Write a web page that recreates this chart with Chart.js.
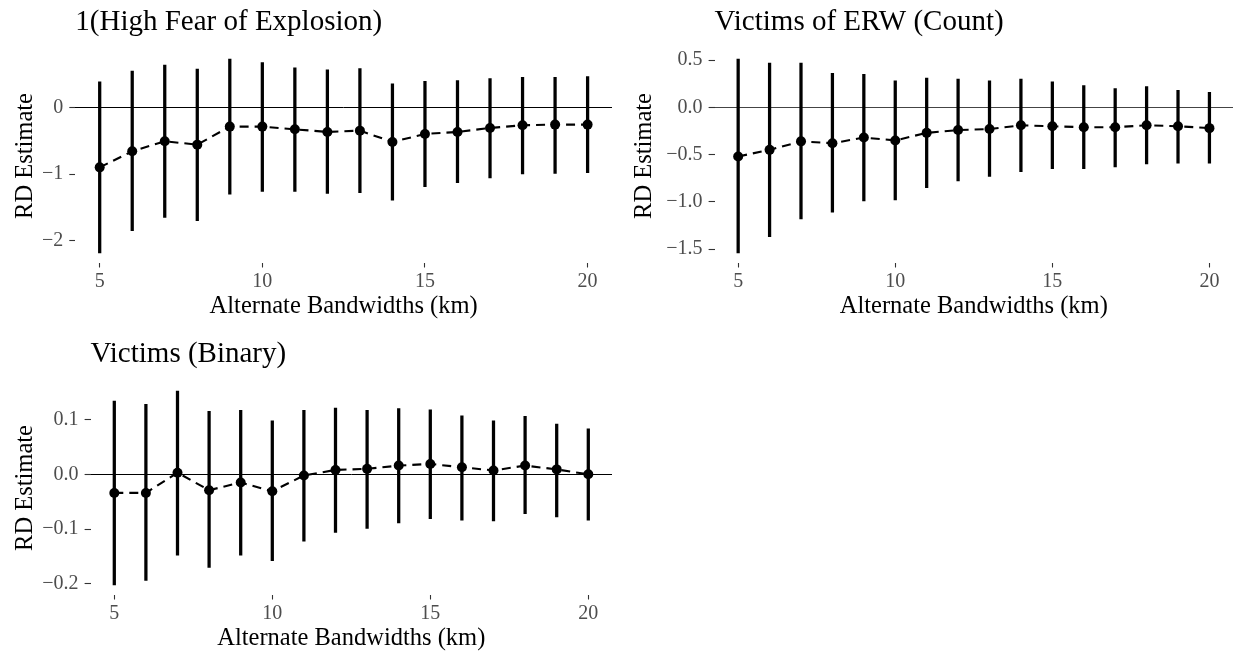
<!DOCTYPE html>
<html><head><meta charset="utf-8">
<script src="https://cdn.jsdelivr.net/npm/chart.js@4.4.1/dist/chart.umd.min.js"></script>
<style>
html,body{margin:0;padding:0;background:#fff;width:1238px;height:654px;overflow:hidden;position:relative;}
canvas{position:absolute;}
</style></head><body>
<canvas id="c1" width="619" height="322" style="left:0;top:0"></canvas>
<canvas id="c2" width="619" height="322" style="left:619px;top:0"></canvas>
<canvas id="c3" width="619" height="322" style="left:0;top:332px"></canvas>
<script>
// ---- data ----
const bandwidths = [5,6,7,8,9,10,11,12,13,14,15,16,17,18,19,20];
const xTicks = [5,10,15,20];

const fearTitle = "1(High Fear of Explosion)";
const fearEst = [-0.90,-0.66,-0.51,-0.56,-0.29,-0.29,-0.33,-0.37,-0.35,-0.52,-0.40,-0.37,-0.31,-0.27,-0.26,-0.26];
const fearLo  = [-2.18,-1.85,-1.65,-1.70,-1.30,-1.26,-1.26,-1.29,-1.28,-1.39,-1.19,-1.13,-1.06,-1.00,-0.99,-0.98];
const fearHi  = [0.38,0.54,0.63,0.57,0.72,0.67,0.59,0.56,0.58,0.35,0.39,0.40,0.43,0.45,0.45,0.46];
const fearYTicks = [-2,-1,0];

const countTitle = "Victims of ERW (Count)";
const countEst = [-0.52,-0.45,-0.36,-0.38,-0.32,-0.35,-0.27,-0.24,-0.23,-0.19,-0.20,-0.21,-0.21,-0.19,-0.20,-0.22];
const countLo  = [-1.54,-1.37,-1.18,-1.11,-0.99,-0.98,-0.85,-0.78,-0.73,-0.68,-0.65,-0.65,-0.63,-0.60,-0.59,-0.59];
const countHi  = [0.51,0.47,0.47,0.36,0.35,0.28,0.31,0.30,0.28,0.30,0.27,0.23,0.20,0.22,0.18,0.16];
const countYTicks = [-1.5,-1.0,-0.5,0.0,0.5];

const binaryTitle = "Victims (Binary)";
const binaryEst = [-0.034,-0.034,0.003,-0.029,-0.015,-0.031,-0.002,0.008,0.010,0.016,0.019,0.013,0.007,0.016,0.009,0.000];
const binaryLo  = [-0.202,-0.194,-0.148,-0.170,-0.148,-0.158,-0.122,-0.106,-0.099,-0.089,-0.081,-0.084,-0.085,-0.072,-0.078,-0.084];
const binaryHi  = [0.134,0.128,0.152,0.115,0.117,0.098,0.117,0.121,0.117,0.120,0.118,0.107,0.098,0.106,0.092,0.083];
const binaryYTicks = [-0.2,-0.1,0.0,0.1];

const xTitle = "Alternate Bandwidths (km)";
const yTitle = "RD Estimate";

// ---- drawing ----
const FONT = "'Liberation Serif', 'Times New Roman', serif";

function fmt(v, dec){
  const s = Math.abs(v).toFixed(dec);
  return (v < -1e-9 ? "\u2212" : "") + s;
}

function makePanel(id, title, est, lo, hi, yTicks, dec, yAxisW, padRight, zeroColor){
  const ymin = Math.min(...lo), ymax = Math.max(...hi);
  const ex = 0.05*(ymax-ymin);
  const xex = 0.05*(bandwidths[bandwidths.length-1]-bandwidths[0]);
  new Chart(document.getElementById(id), {
    type: 'line',
    data: {
      datasets: [
        {
          type: 'line',
          order: 1,
          data: bandwidths.map((b,i)=>({x:b, y:est[i]})),
          borderColor: '#000',
          borderWidth: 2.1,
          borderDash: [9,6],
          pointRadius: 5,
          pointBackgroundColor: '#000',
          pointBorderWidth: 0,
          tension: 0,
          fill: false
        },
        {
          type: 'bar',
          order: 2,
          data: bandwidths.map((b,i)=>({x:b, y:[lo[i], hi[i]]})),
          backgroundColor: '#000',
          borderWidth: 0,
          barThickness: 2.6
        }
      ]
    },
    options: {
      responsive: false,
      animation: false,
      devicePixelRatio: 1,
      events: [],
      layout: { padding: {left:0, right:padRight, top:0, bottom:0} },
      plugins: {
        legend: {display:false},
        tooltip: {enabled:false},
        title: {
          display: true, text: title, align: 'start', fullSize: false,
          color: '#000',
          font: {family: FONT, size: 29, weight: 'normal', lineHeight: 1.2},
          padding: {top: 4.8, bottom: 9.9}
        }
      },
      scales: {
        x: {
          type: 'linear',
          min: bandwidths[0]-xex, max: bandwidths[bandwidths.length-1]+xex,
          offset: false,
          afterBuildTicks: (ax)=>{ ax.ticks = xTicks.map(v=>({value:v})); },
          afterFit: (ax)=>{ ax.height = 59.5; },
          border: {display:false},
          grid: {drawOnChartArea:false, drawTicks:true, tickLength:5, tickColor:'#333', tickWidth:1.1, offset:false},
          ticks: {color:'#4d4d4d', padding:2.0, maxRotation:0, autoSkip:false,
                  font:{family:FONT, size:20, lineHeight:1.2},
                  callback:(v)=>String(v)},
          title: {display:true, text:xTitle, color:'#000',
                  font:{family:FONT, size:24.5, lineHeight:1.2},
                  padding:{top:0, bottom:0.8}}
        },
        y: {
          type: 'linear',
          min: ymin-ex, max: ymax+ex,
          afterBuildTicks: (ax)=>{ ax.ticks = yTicks.map(v=>({value:v})); },
          afterFit: (ax)=>{ ax.width = yAxisW; },
          border: {display:false},
          grid: {
            drawOnChartArea:true, drawTicks:true, tickLength:6, tickColor:'#333', tickWidth:1.1,
            color: (c)=> (c.tick && Math.abs(c.tick.value) < 1e-9) ? zeroColor : 'rgba(0,0,0,0)',
            lineWidth: 1
          },
          ticks: {color:'#4d4d4d', padding:6, autoSkip:false,
                  font:{family:FONT, size:20, lineHeight:1.2},
                  callback:(v)=>fmt(v, dec)},
          title: {display:true, text:yTitle, color:'#000',
                  font:{family:FONT, size:24.5, lineHeight:1.2},
                  padding:{top:10.8, bottom:0}}
        }
      }
    }
  });
}

makePanel('c1', fearTitle, fearEst, fearLo, fearHi, fearYTicks, 0, 75.3, 7, '#000');
makePanel('c2', countTitle, countEst, countLo, countHi, countYTicks, 1, 95.6, 2.6, '#444');
makePanel('c3', binaryTitle, binaryEst, binaryLo, binaryHi, binaryYTicks, 1, 90.6, 7, '#000');
</script>
</body></html>
